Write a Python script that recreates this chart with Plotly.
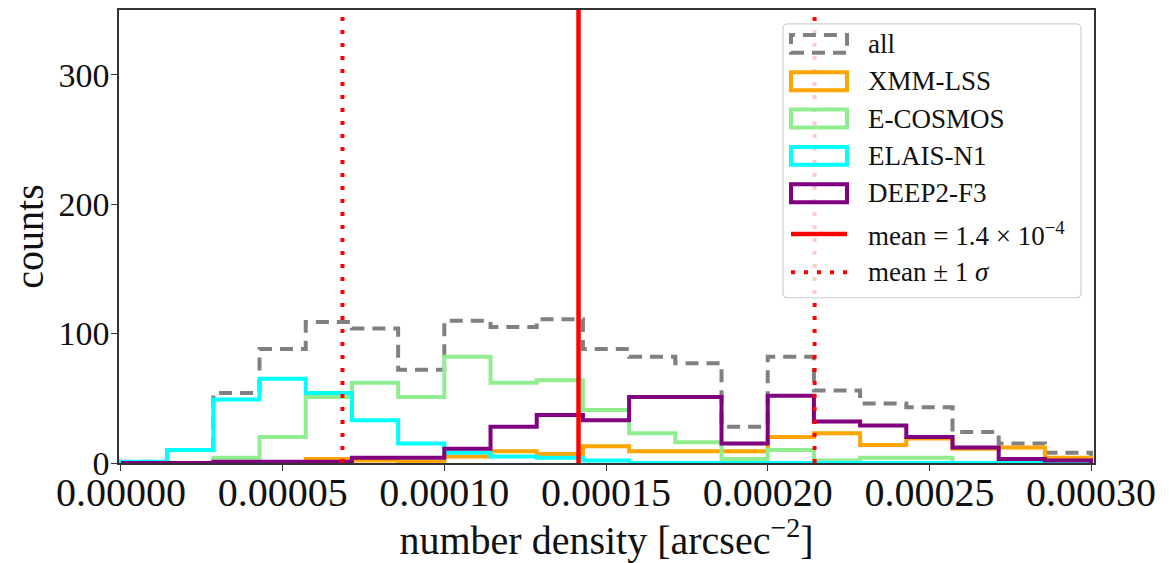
import numpy as np
import plotly.graph_objects as go

# ---------------- data ----------------
X_MIN, X_MAX, N_BINS = 0.0, 0.0003, 21
bin_edges = np.linspace(X_MIN, X_MAX, N_BINS + 1)

counts_all    = [1, 10, 54, 88, 109, 104, 72, 110, 105, 111, 88, 82, 77, 28, 82, 56, 46, 43, 24, 15, 8]
counts_xmm    = [0, 0, 0, 0, 3, 2, 1, 5, 9, 7, 13, 9, 9, 9, 20, 23, 14, 19, 11, 12, 4]
counts_cosmos = [0, 0, 4, 20, 51, 62, 51, 82, 62, 64, 41, 23, 16, 3, 10, 2, 4, 4, 0, 0, 0]
counts_elais  = [1, 10, 49, 65, 54, 33, 15, 8, 5, 4, 2, 0, 0, 0, 0, 0, 0, 0, 0, 0, 0]
counts_deep2  = [0, 0, 1, 1, 1, 4, 4, 11, 28, 37, 33, 51, 51, 15, 52, 32, 29, 20, 12, 3, 2]

mean_density = 1.415e-4
sigma_density = 0.73e-4

series_names = ["all", "XMM-LSS", "E-COSMOS", "ELAIS-N1", "DEEP2-F3"]
series_counts = [counts_all, counts_xmm, counts_cosmos, counts_elais, counts_deep2]
series_colors = ["#808080", "#FFA500", "#90EE90", "#00FFFF", "#800080"]
x_tick_vals = [0.0, 0.00005, 0.0001, 0.00015, 0.0002, 0.00025, 0.0003]
y_tick_vals = [0, 100, 200, 300]
Y_MAX = 350

FONT = "Liberation Serif, Times New Roman, serif"

# ---------------- figure ----------------
def step_xy(counts):
    xs = [bin_edges[0]] + list(bin_edges[:-1]) + [bin_edges[-1], bin_edges[-1]]
    ys = [0] + list(counts) + [counts[-1], 0]
    return xs, ys

fig = go.Figure()
for name, cnt, col in zip(series_names, series_counts, series_colors):
    xs, ys = step_xy(cnt)
    fig.add_trace(go.Scatter(
        x=xs, y=ys, mode="lines", name=name, line_shape="hv",
        line=dict(color=col, width=4, dash="13px,8px" if name == "all" else "solid"),
        showlegend=False, hoverinfo="skip"))

fig.add_trace(go.Scatter(x=[mean_density, mean_density], y=[0, Y_MAX], mode="lines",
                         line=dict(color="red", width=4.5), showlegend=False, hoverinfo="skip"))
for xv in (mean_density - sigma_density, mean_density + sigma_density):
    fig.add_trace(go.Scatter(x=[xv, xv], y=[0, Y_MAX], mode="lines",
                             line=dict(color="red", width=4, dash="4px,9px"),
                             showlegend=False, hoverinfo="skip"))

# ---------------- layout ----------------
L, R, T, B = 119, 1094, 8, 463
W, H = 1169, 563

def px(xp):
    return (xp - L) / (R - L)

def py(yp):
    return (B - yp) / (B - T)

shapes = []
annotations = []

# legend frame (rounded, semi-transparent)
bx0, bx1, by0, by1 = px(783), px(1081), py(297), py(22)
rx, ry = 5 / (R - L), 5 / (B - T)
path = (f"M {bx0+rx},{by1} L {bx1-rx},{by1} Q {bx1},{by1} {bx1},{by1-ry} "
        f"L {bx1},{by0+ry} Q {bx1},{by0} {bx1-rx},{by0} L {bx0+rx},{by0} "
        f"Q {bx0},{by0} {bx0},{by0+ry} L {bx0},{by1-ry} Q {bx0},{by1} {bx0+rx},{by1} Z")
shapes.append(dict(type="path", xref="paper", yref="paper", path=path,
                   fillcolor="rgba(255,255,255,0.8)", line=dict(color="#d0d0d0", width=1.2),
                   layer="above"))

row_y = [42, 79.5, 117, 154.5, 192, 233, 271.5]
icon_x0, icon_x1 = 791, 847
text_x = 866
labels = series_names + ["mean = 1.4 × 10<sup>−4</sup>", "mean ± 1 <i>σ</i>"]
for i, lab in enumerate(labels):
    yc = row_y[i]
    if i < 5:
        shapes.append(dict(type="rect", xref="paper", yref="paper",
                           x0=px(icon_x0), x1=px(icon_x1), y0=py(yc + 9), y1=py(yc - 9),
                           line=dict(color=series_colors[i], width=4,
                                     dash="13px,8px" if i == 0 else "solid"),
                           fillcolor="rgba(0,0,0,0)", layer="above"))
    elif i == 5:
        shapes.append(dict(type="line", xref="paper", yref="paper",
                           x0=px(icon_x0), x1=px(icon_x1), y0=py(yc), y1=py(yc),
                           line=dict(color="red", width=4.5), layer="above"))
    else:
        shapes.append(dict(type="line", xref="paper", yref="paper",
                           x0=px(icon_x0), x1=px(icon_x1), y0=py(yc), y1=py(yc),
                           line=dict(color="red", width=4, dash="4px,9px"), layer="above"))
    annotations.append(dict(xref="paper", yref="paper", x=px(text_x), y=py(yc),
                            xanchor="left", yanchor="middle", showarrow=False,
                            text=lab, font=dict(family=FONT, size=27, color="#111")))

axis_common = dict(showline=True, linecolor="#333", linewidth=1.5, mirror=True,
                   ticks="outside", tickcolor="#333", tickwidth=1.3, ticklen=6,
                   showgrid=False, zeroline=False)

fig.update_layout(
    width=W, height=H,
    margin=dict(l=L, r=W - R, t=T, b=H - B),
    paper_bgcolor="white", plot_bgcolor="white",
    font=dict(family=FONT, color="#111"),
    xaxis=dict(range=[-0.0000006, 0.0003009], tickvals=x_tick_vals, tickformat=".5f",
               tickfont=dict(family=FONT, size=40, color="#111"), ticklabelstandoff=-13,
               title=dict(text="number density [arcsec<sup>−2</sup>]",
                          font=dict(family=FONT, size=40, color="#111"), standoff=1),
               **axis_common),
    yaxis=dict(range=[0, Y_MAX], tickvals=y_tick_vals,
               tickfont=dict(family=FONT, size=34, color="#111"), ticklabelstandoff=-5,
               title=dict(text="counts", font=dict(family=FONT, size=40, color="#111"), standoff=2),
               **axis_common),
    shapes=shapes, annotations=annotations, showlegend=False,
)

fig.write_html("out.html")
